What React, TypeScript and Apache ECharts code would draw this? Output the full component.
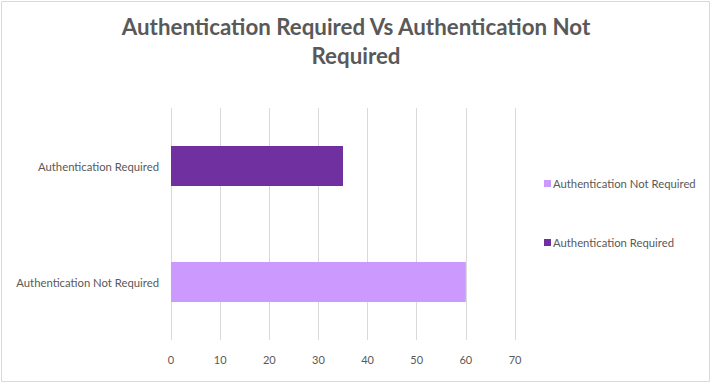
import React, { useEffect, useRef } from "react";
import * as echarts from "echarts";

const categories = ["Authentication Not Required", "Authentication Required"];
const seriesNames = ["Authentication Not Required", "Authentication Required"];
const notRequiredValues: (number | string)[] = [60, "-"];
const requiredValues: (number | string)[] = ["-", 35];
const seriesColors = ["#CC99FF", "#7030A0"];
const titleText = "Authentication Required Vs Authentication Not\nRequired";

export default function App() {
  const ref = useRef<HTMLDivElement>(null);
  useEffect(() => {
    document.body.style.margin = "0";
    const chart = echarts.init(ref.current!, undefined, { renderer: "svg" });
    const font = "Lato, 'Open Sans', sans-serif";
    chart.setOption({
      animation: false,
      backgroundColor: "#ffffff",
      textStyle: { fontFamily: font },
      title: {
        text: titleText,
        left: "center",
        top: 7,
        textStyle: {
          fontSize: 22.3,
          fontWeight: "bold",
          color: "#595959",
          fontFamily: font,
          lineHeight: 29,
          align: "center",
        },
      },
      graphic: [
        {
          type: "rect",
          shape: { x: 1.5, y: 1.5, width: 708, height: 380 },
          style: { fill: "none", stroke: "#d9d9d9", lineWidth: 1 },
          silent: true,
        },
      ],
      legend: {
        orient: "vertical",
        left: 539,
        top: 173,
        itemGap: 48,
        itemWidth: 7,
        itemHeight: 7,
        icon: "rect",
        data: seriesNames,
        textStyle: { fontSize: 11.3, color: "#595959", fontFamily: font, padding: [0, 0, 0, -3] },
      },
      grid: { left: 171, right: 197, top: 108, bottom: 44 },
      xAxis: {
        type: "value",
        min: 0,
        max: 70,
        interval: 10,
        axisLine: { show: false },
        axisTick: { show: false },
        axisLabel: { color: "#595959", fontSize: 11, margin: 14, fontFamily: font },
        splitLine: { show: true, lineStyle: { color: "#d9d9d9", width: 1 } },
      },
      yAxis: {
        type: "category",
        data: categories,
        axisLine: { show: false },
        axisTick: { show: false },
        axisLabel: { color: "#595959", fontSize: 11.3, margin: 12, fontFamily: font },
        splitLine: { show: false },
      },
      series: [
        {
          name: seriesNames[0],
          type: "bar",
          stack: "total",
          data: notRequiredValues,
          barWidth: 40,
          itemStyle: { color: seriesColors[0] },
        },
        {
          name: seriesNames[1],
          type: "bar",
          stack: "total",
          data: requiredValues,
          barWidth: 40,
          itemStyle: { color: seriesColors[1] },
        },
      ],
    });
    return () => chart.dispose();
  }, []);
  return <div ref={ref} style={{ width: 712, height: 384, position: "absolute", left: 0, top: 0 }} />;
}
